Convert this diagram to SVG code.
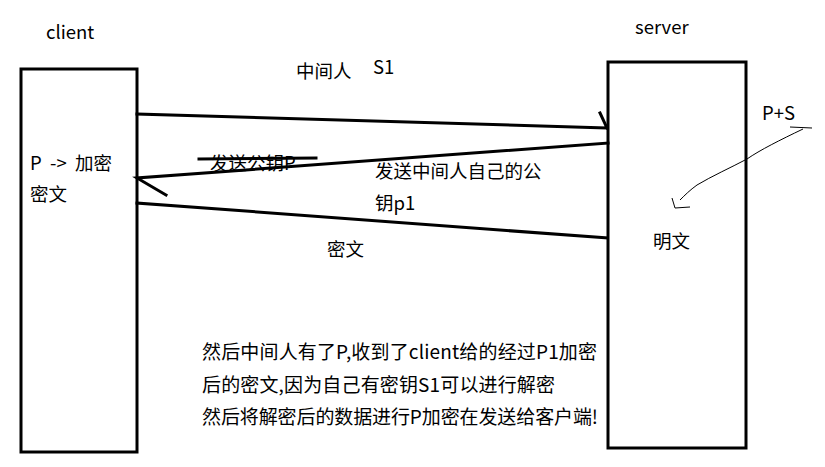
<svg xmlns="http://www.w3.org/2000/svg" width="825" height="467" viewBox="0 0 825 467">
<style>
text{font-family:"Noto Sans CJK SC","Noto Sans",sans-serif;fill:#000;font-size:18.5px}
.box{fill:none;stroke:#000;stroke-width:3}
.ln{fill:none;stroke:#000;stroke-width:3;stroke-linecap:square}
.thin{fill:none;stroke:#000;stroke-width:1}
.big{font-size:19px}
</style>
<rect width="825" height="467" fill="#fff"/>
<g id="client">
<rect class="box" x="21" y="69" width="116" height="383"/>
<text x="46" y="39">client</text>
<text x="30" y="170" xml:space="preserve">P  -&gt;  加密</text>
<text x="30" y="201">密文</text>
</g>
<g id="server">
<rect class="box" x="608" y="62" width="138" height="386"/>
<text x="635" y="34">server</text>
<text x="653" y="248">明文</text>
</g>
<g id="connectors">
<path class="ln" d="M137 114 L607 128 M600 113 L607 128"/>
<path class="ln" d="M608 143 L137 178 L166 195"/>
<path class="ln" d="M137 203 L607 238"/>
<path class="ln" d="M199 159 L316 158"/>
<path class="thin" d="M790 127 L812 128 M803 129 C780 140 760 150 747 159 C730 168 712 176 697 185 C690 190 685 195 680 200 M672 198 L675 208 L690 207"/>
</g>
<g id="labels">
<text x="296" y="78">中间人</text>
<text x="373" y="74">S1</text>
<text x="762" y="120">P+S</text>
<text x="210" y="170">发送公钥P</text>
<text x="375" y="178">发送中间人自己的公</text>
<text x="375" y="210">钥p1</text>
<text x="327" y="256">密文</text>
<text class="big" x="202" y="359" textLength="395" lengthAdjust="spacing">然后中间人有了P,收到了client给的经过P1加密</text>
<text class="big" x="202" y="392" textLength="353" lengthAdjust="spacing">后的密文,因为自己有密钥S1可以进行解密</text>
<text class="big" x="202" y="424" textLength="396" lengthAdjust="spacing">然后将解密后的数据进行P加密在发送给客户端!</text>
</g>
</svg>
